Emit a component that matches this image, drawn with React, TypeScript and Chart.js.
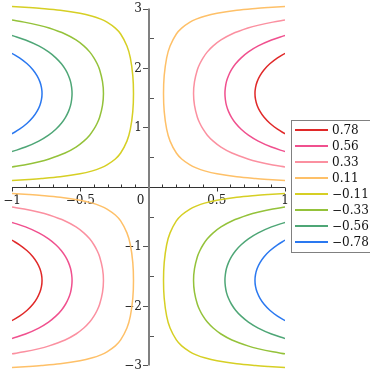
import React, { useEffect, useRef } from "react";
import { Chart, registerables } from "chart.js";

Chart.register(...registerables);

// Contour levels (legend order) and their colours
const LEVEL_LABELS = ["0.78", "0.56", "0.33", "0.11", "\u22120.11", "\u22120.33", "\u22120.56", "\u22120.78"];
const LEVEL_COLORS = ["#e02828", "#f0508e", "#fb90a0", "#fec068", "#d6cf24", "#94c23a", "#4ea676", "#2a78f0"];

// Contour shapes read in the upper-right quadrant (x > 0, y > 0) for each |level|
const Y_078 = [0.895, 0.971, 1.071, 1.171, 1.271, 1.371, 1.471, 1.571, 1.671, 1.771, 1.871, 1.971, 2.071, 2.171, 2.247];
const X_078 = [1, 0.945, 0.889, 0.847, 0.817, 0.796, 0.784, 0.78, 0.784, 0.796, 0.817, 0.847, 0.889, 0.945, 1];

const Y_056 = [0.595, 0.671, 0.771, 0.871, 0.971, 1.071, 1.171, 1.271, 1.371, 1.471, 1.571, 1.671, 1.771, 1.871, 1.971, 2.071, 2.171, 2.271, 2.371, 2.471, 2.547];
const X_056 = [1, 0.901, 0.804, 0.732, 0.679, 0.638, 0.608, 0.586, 0.571, 0.563, 0.56, 0.563, 0.571, 0.586, 0.608, 0.638, 0.679, 0.732, 0.804, 0.901, 1];

const Y_033 = [0.337, 0.371, 0.421, 0.471, 0.571, 0.671, 0.771, 0.871, 0.971, 1.071, 1.171, 1.371, 1.571, 1.771, 1.971, 2.071, 2.171, 2.271, 2.371, 2.471, 2.571, 2.671, 2.721, 2.771, 2.805];
const X_033 = [1, 0.911, 0.808, 0.728, 0.611, 0.531, 0.474, 0.431, 0.4, 0.376, 0.358, 0.337, 0.33, 0.337, 0.358, 0.376, 0.4, 0.431, 0.474, 0.531, 0.611, 0.728, 0.808, 0.911, 1];

const Y_011 = [0.11, 0.126, 0.141, 0.171, 0.221, 0.271, 0.321, 0.371, 0.471, 0.571, 0.771, 0.971, 1.271, 1.571, 1.871, 2.171, 2.371, 2.571, 2.671, 2.771, 2.821, 2.871, 2.921, 2.971, 3.001, 3.016, 3.032];
const X_011 = [1, 0.877, 0.784, 0.647, 0.502, 0.411, 0.349, 0.304, 0.243, 0.204, 0.158, 0.133, 0.115, 0.11, 0.115, 0.133, 0.158, 0.204, 0.243, 0.304, 0.349, 0.411, 0.502, 0.647, 0.784, 0.877, 1];

const SHAPES_X = [X_078, X_056, X_033, X_011];
const SHAPES_Y = [Y_078, Y_056, Y_033, Y_011];

// Axis ticks
const X_TICKS = [-1, -0.5, 0, 0.5, 1];
const X_TICK_LABELS = ["\u22121", "\u22120.5", "0", "0.5", "1"];
const X_MINOR_TICKS = [-0.9, -0.8, -0.7, -0.6, -0.4, -0.3, -0.2, -0.1, 0.1, 0.2, 0.3, 0.4, 0.6, 0.7, 0.8, 0.9];
const Y_TICKS = [-3, -2, -1, 1, 2, 3];
const Y_TICK_LABELS = ["\u22123", "\u22122", "\u22121", "1", "2", "3"];
const Y_MINOR_TICKS = [-2.5, -1.5, -0.5, 0.5, 1.5, 2.5];

const FONT = "12px 'DejaVu Serif'";

function buildDatasets() {
  return LEVEL_LABELS.map((label, i) => {
    const s = i < 4 ? i : 7 - i;
    const xs = SHAPES_X[s];
    const ys = SHAPES_Y[s];
    const positive = i < 4;
    const first = xs.map((x, k) => ({ x: positive ? x : -x, y: ys[k] }));
    const second = xs.map((x, k) => ({ x: positive ? -x : x, y: -ys[k] }));
    return {
      label,
      data: [...first, { x: null, y: null }, ...second],
      borderColor: LEVEL_COLORS[i],
      backgroundColor: LEVEL_COLORS[i],
      showLine: true,
      spanGaps: false,
      pointRadius: 0,
      borderWidth: 1.5,
      tension: 0.35,
      fill: false,
    };
  });
}

const axesPlugin = {
  id: "mapleAxes",
  beforeDatasetsDraw(chart: any) {
    const { ctx } = chart;
    const xs = chart.scales.x;
    const ys = chart.scales.y;
    const x0 = Math.round(xs.getPixelForValue(0));
    const y0 = Math.round(ys.getPixelForValue(0));
    ctx.save();
    // x axis
    ctx.strokeStyle = "#333333";
    ctx.lineWidth = 1;
    ctx.beginPath();
    ctx.moveTo(xs.getPixelForValue(-1), y0 + 0.5);
    ctx.lineTo(xs.getPixelForValue(1), y0 + 0.5);
    ctx.stroke();
    ctx.beginPath();
    for (const v of X_MINOR_TICKS) {
      const px = Math.round(xs.getPixelForValue(v)) + 0.5;
      ctx.moveTo(px, y0 - 2.5);
      ctx.lineTo(px, y0 + 0.5);
    }
    for (const v of X_TICKS) {
      if (v === 0) continue;
      const px = Math.round(xs.getPixelForValue(v)) + 0.5;
      ctx.moveTo(px, y0 + 0.5);
      ctx.lineTo(px, y0 + 4.5);
    }
    ctx.stroke();
    // y axis
    ctx.strokeStyle = "#808080";
    ctx.lineWidth = 2;
    ctx.beginPath();
    ctx.moveTo(x0, ys.getPixelForValue(3));
    ctx.lineTo(x0, ys.getPixelForValue(-3));
    ctx.stroke();
    ctx.lineWidth = 1;
    ctx.strokeStyle = "#555555";
    ctx.beginPath();
    for (const v of Y_TICKS) {
      const py = Math.round(ys.getPixelForValue(v)) + 0.5;
      ctx.moveTo(x0 - 6, py);
      ctx.lineTo(x0 - 1, py);
    }
    for (const v of Y_MINOR_TICKS) {
      const py = Math.round(ys.getPixelForValue(v)) + 0.5;
      ctx.moveTo(x0 + 1, py);
      ctx.lineTo(x0 + 5, py);
    }
    ctx.stroke();
    // labels
    ctx.fillStyle = "#222222";
    ctx.font = FONT;
    ctx.textBaseline = "alphabetic";
    ctx.textAlign = "center";
    X_TICKS.forEach((v, k) => {
      let px = xs.getPixelForValue(v);
      if (v === 0) px -= 8;
      ctx.fillText(X_TICK_LABELS[k], px, y0 + 17);
    });
    ctx.textAlign = "right";
    ctx.textBaseline = "middle";
    Y_TICKS.forEach((v, k) => {
      ctx.fillText(Y_TICK_LABELS[k], x0 - 7, ys.getPixelForValue(v) + 0.5);
    });
    ctx.restore();
  },
};

const legendPlugin = {
  id: "mapleLegend",
  afterDraw(chart: any) {
    const { ctx } = chart;
    const left = 291.5;
    const top = 120.5;
    const rowH = 16;
    const n = chart.data.datasets.length;
    ctx.save();
    ctx.fillStyle = "#ffffff";
    ctx.fillRect(left, top, 90, n * rowH + 4);
    ctx.strokeStyle = "#808080";
    ctx.lineWidth = 1;
    ctx.strokeRect(left, top, 90, n * rowH + 4);
    ctx.font = FONT;
    ctx.textAlign = "left";
    ctx.textBaseline = "middle";
    chart.data.datasets.forEach((ds: any, k: number) => {
      const cy = top + 9.5 + k * rowH;
      ctx.strokeStyle = ds.borderColor;
      ctx.lineWidth = 2;
      ctx.beginPath();
      ctx.moveTo(295, cy);
      ctx.lineTo(328, cy);
      ctx.stroke();
      ctx.fillStyle = "#111111";
      ctx.fillText(ds.label, 332, cy + 0.5);
    });
    ctx.restore();
  },
};

export default function App() {
  const ref = useRef<HTMLCanvasElement | null>(null);
  useEffect(() => {
    if (!ref.current) return;
    const chart = new Chart(ref.current, {
      type: "scatter",
      data: { datasets: buildDatasets() as any },
      options: {
        animation: false,
        responsive: false,
        maintainAspectRatio: false,
        layout: { padding: { left: 12, right: 85, top: 0, bottom: 0 } },
        plugins: { legend: { display: false }, tooltip: { enabled: false } },
        scales: {
          x: { type: "linear", min: -1, max: 1, display: false },
          y: { type: "linear", min: -3.076, max: 3.143, display: false },
        },
      },
      plugins: [axesPlugin, legendPlugin],
    });
    return () => chart.destroy();
  }, []);
  return (
    <div style={{ position: "absolute", left: 0, top: 0, width: 370, height: 370, background: "#fff" }}>
      <canvas ref={ref} width={370} height={370} style={{ display: "block" }} />
    </div>
  );
}
